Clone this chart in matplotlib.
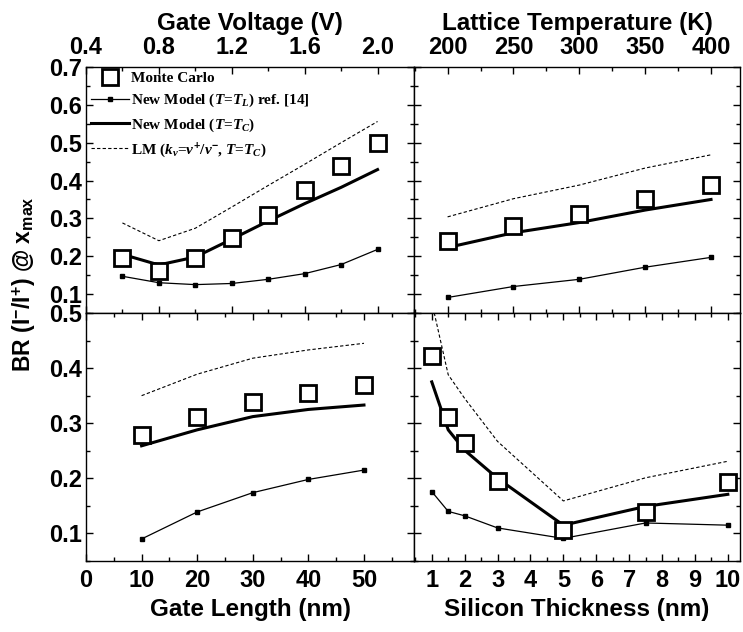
import numpy as np
import matplotlib
matplotlib.use("Agg")
from matplotlib import pyplot as plt
from matplotlib.ticker import MultipleLocator, FormatStrFormatter

# gate voltage panel (top left)
vg = [0.6, 0.8, 1.0, 1.2, 1.4, 1.6, 1.8, 2.0]
vg_mc = [0.195, 0.160, 0.195, 0.248, 0.310, 0.374, 0.438, 0.499]
vg_tl = [0.147, 0.130, 0.125, 0.128, 0.139, 0.154, 0.178, 0.218]
vg_tc = [0.205, 0.177, 0.198, 0.245, 0.293, 0.339, 0.382, 0.429]
vg_lm = [0.288, 0.241, 0.274, 0.330, 0.387, 0.443, 0.500, 0.556]

# lattice temperature panel (top right)
temp = [200, 250, 300, 350, 400]
temp_mc = [0.240, 0.280, 0.311, 0.352, 0.387]
temp_tl = [0.091, 0.120, 0.139, 0.171, 0.197]
temp_tc = [0.223, 0.262, 0.289, 0.322, 0.350]
temp_lm = [0.304, 0.352, 0.388, 0.433, 0.468]

# gate length panel (bottom left)
lg = [10, 20, 30, 40, 50]
lg_mc = [0.279, 0.311, 0.338, 0.354, 0.369]
lg_tl = [0.090, 0.139, 0.174, 0.198, 0.215]
lg_tc = [0.259, 0.288, 0.312, 0.325, 0.333]
lg_lm = [0.350, 0.389, 0.418, 0.433, 0.445]

# silicon thickness panel (bottom right)
tsi = [1, 1.5, 2, 3, 5, 7.5, 10]
tsi_mc = [0.422, 0.311, 0.264, 0.196, 0.107, 0.139, 0.193]
tsi_tl = [0.176, 0.140, 0.132, 0.110, 0.091, 0.119, 0.115]
tsi_tc = [0.375, 0.288, 0.251, 0.200, 0.115, 0.149, 0.171]
tsi_lm = [0.520, 0.388, 0.345, 0.267, 0.159, 0.201, 0.231]

plt.rcParams['font.family'] = ['Liberation Sans', 'DejaVu Sans']
plt.rcParams['font.weight'] = 'bold'
plt.rcParams['mathtext.fontset'] = 'custom'
plt.rcParams['mathtext.rm'] = 'Liberation Sans:bold'
plt.rcParams['mathtext.bf'] = 'Liberation Sans:bold'
plt.rcParams['mathtext.it'] = 'Liberation Serif:italic:bold'

TICK_FS = 17
LABEL_FS = 17.5

fig = plt.figure(figsize=(7.43, 6.32), dpi=100)

L, M, R = 86/743, 414/743, 740/743
T, C, B = 1 - 67/632, 1 - 313/632, 1 - 561/632

ax_vg = fig.add_axes([L, C, M - L, T - C])
ax_t = fig.add_axes([M, C, R - M, T - C])
ax_lg = fig.add_axes([L, B, M - L, C - B])
ax_si = fig.add_axes([M, B, R - M, C - B])


def draw(ax, x, mc, tl, tc, lm):
    ax.plot(x, lm, color='black', lw=0.8, ls=(0, (3, 2)),
            label=r'LM ($k_v$=$v^{+}$/$v^{-}$, $T$=$T_C$)')
    ax.plot(x, tl, color='black', lw=0.9, marker='s', ms=3.5,
            label=r'New Model ($T$=$T_L$) ref. [14]')
    ax.plot(x, tc, color='black', lw=2.2,
            label=r'New Model ($T$=$T_C$)')
    ax.plot(x, mc, ls='none', marker='s', ms=11, mfc='white', mec='black',
            mew=2, label='Monte Carlo')


def style(ax):
    ax.tick_params(which='both', direction='in', top=True, right=True,
                   bottom=True, left=True, labelsize=TICK_FS)
    ax.tick_params(which='major', length=5, width=1)
    ax.tick_params(which='minor', length=3, width=1)
    ax.tick_params(axis='x', which='both', pad=6)
    ax.tick_params(axis='y', which='both', pad=3)
    for s in ax.spines.values():
        s.set_linewidth(1)
    for lab in ax.get_xticklabels() + ax.get_yticklabels():
        lab.set_fontweight('bold')


draw(ax_vg, vg, vg_mc, vg_tl, vg_tc, vg_lm)
draw(ax_t, temp, temp_mc, temp_tl, temp_tc, temp_lm)
draw(ax_lg, lg, lg_mc, lg_tl, lg_tc, lg_lm)
draw(ax_si, tsi, tsi_mc, tsi_tl, tsi_tc, tsi_lm)

# top panels
for ax in (ax_vg, ax_t):
    ax.set_ylim(0.05, 0.7)
    ax.yaxis.set_major_locator(MultipleLocator(0.1))
    ax.yaxis.set_minor_locator(MultipleLocator(0.05))
    ax.xaxis.tick_top()
    ax.xaxis.set_label_position('top')
for ax in (ax_lg, ax_si):
    ax.set_ylim(0.05, 0.5)
    ax.yaxis.set_major_locator(MultipleLocator(0.1))
    ax.yaxis.set_minor_locator(MultipleLocator(0.05))

ax_vg.set_xlim(0.4, 2.2)
ax_vg.xaxis.set_major_locator(MultipleLocator(0.4))
ax_vg.xaxis.set_minor_locator(MultipleLocator(0.2))
ax_vg.xaxis.set_major_formatter(FormatStrFormatter('%.1f'))
ax_vg.set_xlabel('Gate Voltage (V)', fontsize=LABEL_FS, fontweight='bold', labelpad=4)

ax_t.set_xlim(174.5, 422)
ax_t.xaxis.set_major_locator(MultipleLocator(50))
ax_t.xaxis.set_minor_locator(MultipleLocator(25))
ax_t.set_xlabel('Lattice Temperature (K)', fontsize=LABEL_FS, fontweight='bold', labelpad=4)

ax_lg.set_xlim(0, 59)
ax_lg.xaxis.set_major_locator(MultipleLocator(10))
ax_lg.xaxis.set_minor_locator(MultipleLocator(5))
ax_lg.set_xlabel('Gate Length (nm)', fontsize=LABEL_FS, fontweight='bold', labelpad=4)

ax_si.set_xlim(0.46, 10.37)
ax_si.xaxis.set_major_locator(MultipleLocator(1))
ax_si.xaxis.set_minor_locator(MultipleLocator(0.5))
ax_si.set_xlabel('Silicon Thickness (nm)', fontsize=LABEL_FS, fontweight='bold', labelpad=4)

for ax in (ax_vg, ax_lg):
    ax.yaxis.set_major_formatter(FormatStrFormatter('%.1f'))
for ax in (ax_t, ax_si):
    ax.tick_params(labelleft=False)

for ax in (ax_vg, ax_t, ax_lg, ax_si):
    style(ax)
for ax in (ax_vg, ax_t):
    ax.tick_params(which='both', labelbottom=False, labeltop=True)

handles, labels = ax_vg.get_legend_handles_labels()
order = [3, 1, 2, 0]
ax_vg.legend([handles[i] for i in order], [labels[i] for i in order],
             loc='upper left', frameon=False, handlelength=2.5,
             handletextpad=0.15, labelspacing=0.45, borderaxespad=0.2,
             borderpad=0.1,
             prop={'family': 'Liberation Serif', 'weight': 'bold', 'size': 11})

fig.text(0.031, 0.55, r'BR (I$^{\mathrm{-}}$/I$^{\mathrm{+}}$) @ x$_{\mathrm{max}}$',
         rotation=90, ha='center', va='center', fontsize=16.5,
         fontweight='bold')

fig.savefig('out.png', dpi=100)
